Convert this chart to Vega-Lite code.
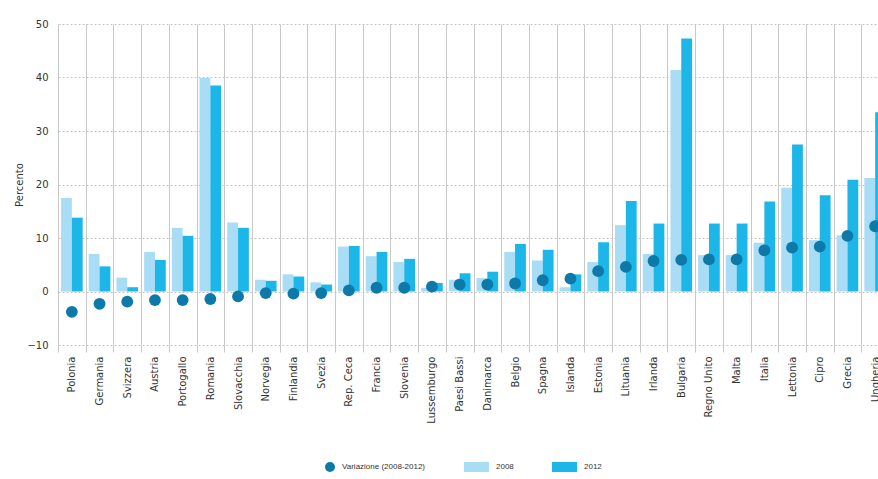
{
  "$schema": "https://vega.github.io/schema/vega-lite/v6.json",
  "width": 831,
  "height": 321,
  "autosize": {"type": "none"},
  "padding": {"left": 58, "top": 24, "right": 0, "bottom": 134},
  "background": "white",
  "config": {
    "view": {"stroke": null},
    "font": "DejaVu Sans",
    "axis": {"labelFont": "DejaVu Sans", "titleFont": "DejaVu Sans", "labelColor": "#333333", "titleColor": "#333333"},
    "legend": {"labelFont": "Liberation Sans"}
  },
  "data": {
    "values": [
      {"paese": "Polonia", "2008": 17.5, "2012": 13.8, "var": -3.8},
      {"paese": "Germania", "2008": 7.0, "2012": 4.7, "var": -2.3},
      {"paese": "Svizzera", "2008": 2.6, "2012": 0.8, "var": -1.9},
      {"paese": "Austria", "2008": 7.4, "2012": 5.9, "var": -1.6},
      {"paese": "Portogallo", "2008": 11.9, "2012": 10.4, "var": -1.6},
      {"paese": "Romania", "2008": 39.9, "2012": 38.5, "var": -1.4},
      {"paese": "Slovacchia", "2008": 12.9, "2012": 11.9, "var": -0.9},
      {"paese": "Norvegia", "2008": 2.2, "2012": 2.0, "var": -0.3},
      {"paese": "Finlandia", "2008": 3.2, "2012": 2.8, "var": -0.4},
      {"paese": "Svezia", "2008": 1.7, "2012": 1.3, "var": -0.3},
      {"paese": "Rep. Ceca", "2008": 8.4, "2012": 8.5, "var": 0.2},
      {"paese": "Francia", "2008": 6.6, "2012": 7.4, "var": 0.7},
      {"paese": "Slovenia", "2008": 5.5, "2012": 6.1, "var": 0.7},
      {"paese": "Lussemburgo", "2008": 0.7, "2012": 1.6, "var": 0.9},
      {"paese": "Paesi Bassi", "2008": 2.2, "2012": 3.4, "var": 1.3},
      {"paese": "Danimarca", "2008": 2.5, "2012": 3.7, "var": 1.3},
      {"paese": "Belgio", "2008": 7.4, "2012": 8.9, "var": 1.5},
      {"paese": "Spagna", "2008": 5.8, "2012": 7.8, "var": 2.1},
      {"paese": "Islanda", "2008": 0.8, "2012": 3.2, "var": 2.4},
      {"paese": "Estonia", "2008": 5.5, "2012": 9.2, "var": 3.8},
      {"paese": "Lituania", "2008": 12.4, "2012": 16.9, "var": 4.6},
      {"paese": "Irlanda", "2008": 7.0, "2012": 12.7, "var": 5.7},
      {"paese": "Bulgaria", "2008": 41.4, "2012": 47.3, "var": 5.9},
      {"paese": "Regno Unito", "2008": 6.8, "2012": 12.7, "var": 6.0},
      {"paese": "Malta", "2008": 6.8, "2012": 12.7, "var": 6.0},
      {"paese": "Italia", "2008": 9.1, "2012": 16.8, "var": 7.7},
      {"paese": "Lettonia", "2008": 19.4, "2012": 27.5, "var": 8.2},
      {"paese": "Cipro", "2008": 9.6, "2012": 18.0, "var": 8.4},
      {"paese": "Grecia", "2008": 10.5, "2012": 20.9, "var": 10.4},
      {"paese": "Ungheria", "2008": 21.2, "2012": 33.5, "var": 12.2}
    ]
  },
  "encoding": {
    "x": {
      "field": "paese",
      "type": "nominal",
      "sort": null,
      "scale": {"paddingInner": 0, "paddingOuter": 0},
      "axis": {
        "title": null,
        "labelAngle": -90,
        "labelFontSize": 10,
        "labelPadding": 4,
        "tickBand": "extent",
        "ticks": true,
        "tickSize": 7,
        "tickColor": "#c8c8c8",
        "grid": true,
        "gridColor": "#c8c8c8",
        "gridWidth": 1,
        "domain": false
      }
    }
  },
  "layer": [
    {
      "transform": [{"fold": ["2008", "2012"], "as": ["serie", "valore"]}],
      "mark": {"type": "bar"},
      "encoding": {
        "xOffset": {"field": "serie", "type": "nominal", "scale": {"paddingInner": 0, "paddingOuter": 0.28}},
        "y": {
          "field": "valore",
          "type": "quantitative",
          "scale": {"domain": [-10, 50], "nice": false, "zero": false},
          "axis": {
            "title": "Percento",
            "titleFontSize": 10,
            "titleFontWeight": "normal",
            "titlePadding": 2,
            "values": [-10, 0, 10, 20, 30, 40, 50],
            "labelFontSize": 10,
            "labelPadding": 10,
            "ticks": false,
            "domain": false,
            "grid": true,
            "gridColor": "#c4c4c4",
            "gridDash": [2, 2]
          }
        },
        "color": {
          "field": "serie",
          "type": "nominal",
          "scale": {
            "domain": ["Variazione (2008-2012)", "2008", "2012"],
            "range": ["#0d79a9", "#a9dcf5", "#1cb6e9"]
          },
          "legend": {
            "title": null,
            "orient": "none",
            "legendX": 267,
            "legendY": 438,
            "padding": 0,
            "direction": "horizontal",
            "symbolSize": 100,
            "labelFontSize": 8,
            "labelColor": "#333333",
            "labelOffset": 7,
            "columnPadding": 38,
            "encode": {
              "symbols": {
                "update": {
                  "shape": {"signal": "datum.value === 'Variazione (2008-2012)' ? 'circle' : 'M-4,-1H1V1H-4Z'"},
                  "strokeWidth": {"value": 0}
                }
              }
            }
          }
        }
      }
    },
    {
      "mark": {"type": "point", "filled": true, "size": 140, "opacity": 1},
      "encoding": {
        "y": {"field": "var", "type": "quantitative"},
        "color": {"datum": "Variazione (2008-2012)"}
      }
    }
  ]
}
